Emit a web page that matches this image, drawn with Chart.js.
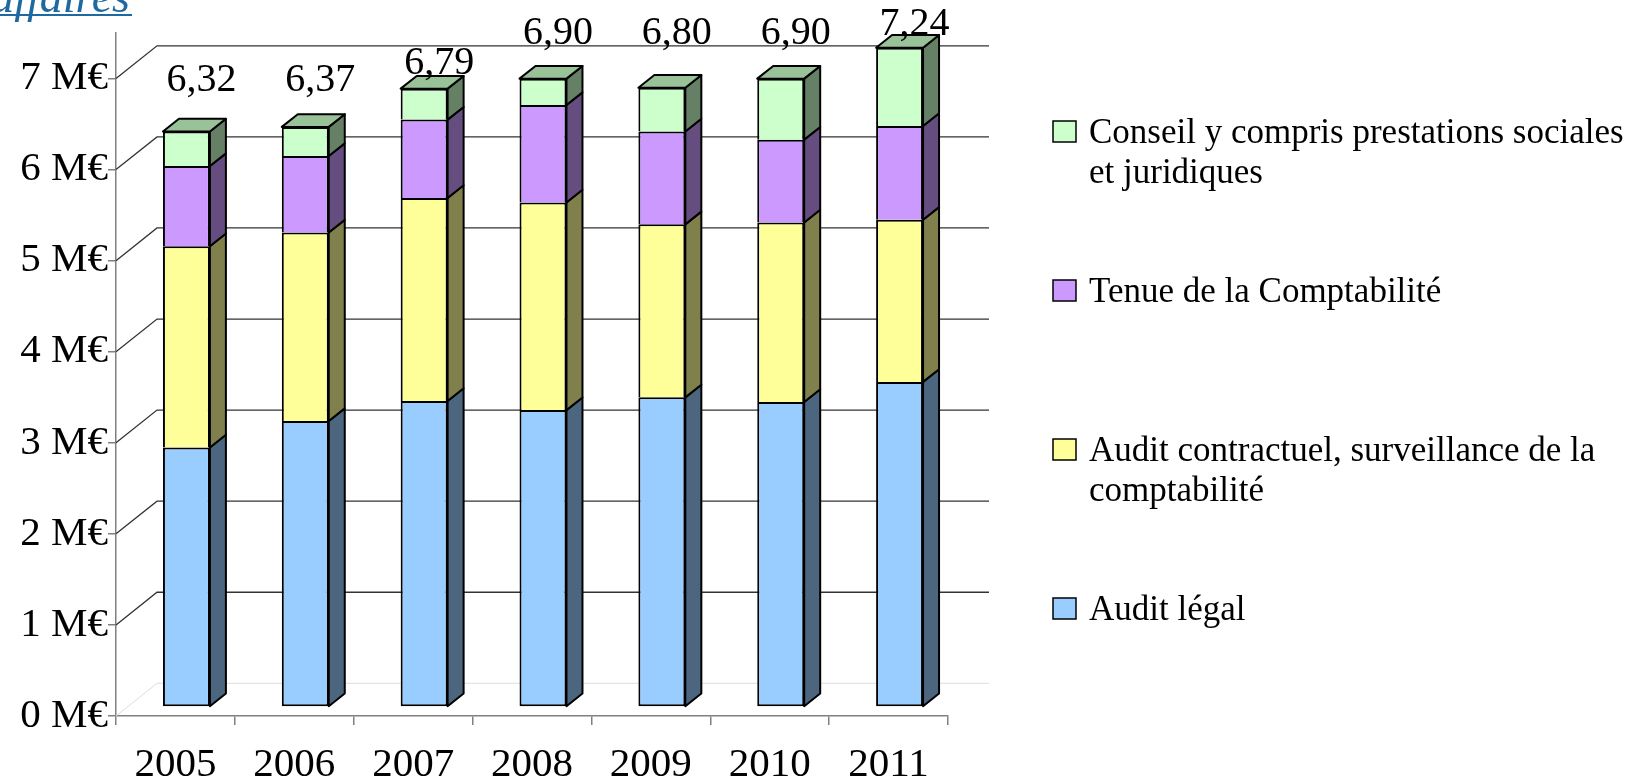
<!DOCTYPE html>
<html>
<head>
<meta charset="utf-8">
<script src="https://cdn.jsdelivr.net/npm/chart.js@4.4.1/dist/chart.umd.min.js"></script>
<style>
  html, body { margin: 0; padding: 0; background: #fff; }
  #wrap { width: 1634px; height: 780px; position: relative; }
</style>
</head>
<body>
<div id="wrap"><canvas id="caChart"></canvas></div>
<script>
var years = ["2005", "2006", "2007", "2008", "2009", "2010", "2011"];
var auditLegal = [2.85, 3.14, 3.36, 3.26, 3.40, 3.35, 3.57];
var auditContractuel = [2.21, 2.07, 2.23, 2.28, 1.90, 1.97, 1.78];
var tenueCompta = [0.88, 0.84, 0.86, 1.07, 1.02, 0.91, 1.03];
var conseil = [0.38, 0.32, 0.34, 0.29, 0.48, 0.67, 0.86];
var yTicks = [0, 1, 2, 3, 4, 5, 6, 7];
// hauteur (en M€) des totaux affichés au-dessus des barres
var labelAt = [6.86, 6.86, 7.05, 7.38, 7.38, 7.38, 7.48];

var FONT = "'Liberation Serif', 'Times New Roman', serif";
// effet 3D : profondeur du fond, plan avant des barres, épaisseur des barres
var WALL_DX = 41, WALL_DY = 32.7;
var BAR_DX = 11, BAR_DY = 9;
var SIDE_DX = 16, SIDE_DY = 12.7;

var series = [
  { label: "Audit légal", data: auditLegal, front: "#99ccff", side: "#4d6680", top: "#7aa3cc" },
  { label: "Audit contractuel, surveillance de la comptabilité", data: auditContractuel, front: "#ffff99", side: "#80804d", top: "#cccc7a" },
  { label: "Tenue de la Comptabilité", data: tenueCompta, front: "#cc99ff", side: "#664d80", top: "#a37acc" },
  { label: "Conseil y compris prestations sociales et juridiques", data: conseil, front: "#ccffcc", side: "#668066", top: "#99c299" }
];

var threeD = {
  id: "threeD",
  beforeDatasetsDraw: function (chart) {
    var ctx = chart.ctx, ys = chart.scales.y, area = chart.chartArea;
    ctx.save();
    yTicks.forEach(function (v) {
      var yf = ys.getPixelForValue(v);
      ctx.strokeStyle = v === 0 ? "#dddddd" : "#333333";
      ctx.lineWidth = v === 0 ? 1 : 1.3;
      ctx.beginPath();
      ctx.moveTo(area.left, yf);
      ctx.lineTo(area.left + WALL_DX, yf - WALL_DY);
      ctx.lineTo(area.right + WALL_DX, yf - WALL_DY);
      ctx.stroke();
    });
    ctx.restore();
    ctx.save();
    ctx.translate(BAR_DX, -BAR_DY);
  },
  afterDatasetsDraw: function (chart) {
    var ctx = chart.ctx;
    var last = chart.data.datasets.length - 1;
    ctx.lineWidth = 2;
    ctx.lineJoin = "round";
    ctx.strokeStyle = "#000";
    chart.data.datasets.forEach(function (ds, di) {
      chart.getDatasetMeta(di).data.forEach(function (el) {
        var xl = el.x - el.width / 2, xr = el.x + el.width / 2;
        ctx.fillStyle = series[di].side;
        ctx.beginPath();
        ctx.moveTo(xr, el.y);
        ctx.lineTo(xr + SIDE_DX, el.y - SIDE_DY);
        ctx.lineTo(xr + SIDE_DX, el.base - SIDE_DY);
        ctx.lineTo(xr, el.base);
        ctx.closePath();
        ctx.fill();
        ctx.stroke();
        if (di === last) {
          ctx.fillStyle = series[di].top;
          ctx.beginPath();
          ctx.moveTo(xl, el.y);
          ctx.lineTo(xl + SIDE_DX, el.y - SIDE_DY);
          ctx.lineTo(xr + SIDE_DX, el.y - SIDE_DY);
          ctx.lineTo(xr, el.y);
          ctx.closePath();
          ctx.fill();
          ctx.stroke();
        }
      });
    });
    ctx.restore();

    // totaux
    var ys = chart.scales.y;
    ctx.save();
    ctx.font = "40px " + FONT;
    ctx.fillStyle = "#000";
    ctx.textAlign = "center";
    ctx.textBaseline = "alphabetic";
    chart.getDatasetMeta(last).data.forEach(function (el, i) {
      var total = 0;
      series.forEach(function (s) { total += s.data[i]; });
      ctx.fillText(total.toFixed(2).replace(".", ","), el.x + BAR_DX + 15, ys.getPixelForValue(labelAt[i]));
    });
    ctx.restore();
  },
  afterDraw: function (chart) {
    var ctx = chart.ctx;
    ctx.save();
    // titre coupé en haut à gauche
    ctx.font = "italic 46px " + FONT;
    ctx.fillStyle = "#1e6aa0";
    ctx.textAlign = "right";
    ctx.fillText("Chiffre d'affaires", 130, 12);
    ctx.fillRect(0, 14, 132, 2);

    // légende
    ctx.font = "35px " + FONT;
    ctx.textAlign = "left";
    ctx.textBaseline = "alphabetic";
    var boxX = 1053, textX = 1089, top0 = 121, step = 159, maxW = 545;
    for (var k = 0; k < series.length; k++) {
      var s = series[series.length - 1 - k];
      var top = top0 + k * step;
      ctx.fillStyle = s.front;
      ctx.fillRect(boxX, top, 23, 21);
      ctx.strokeStyle = "#000";
      ctx.lineWidth = 1.5;
      ctx.strokeRect(boxX, top, 23, 21);
      var words = s.label.split(" "), line = "", lines = [];
      words.forEach(function (w) {
        var test = line ? line + " " + w : w;
        if (ctx.measureText(test).width > maxW && line) { lines.push(line); line = w; }
        else line = test;
      });
      lines.push(line);
      ctx.fillStyle = "#000";
      lines.forEach(function (l, j) { ctx.fillText(l, textX, top + 22 + j * 40); });
    }
    ctx.restore();
  }
};

var ctx = document.getElementById("caChart").getContext("2d");
var chart = new Chart(ctx, {
  type: "bar",
  data: {
    labels: years,
    datasets: series.map(function (s, i) {
      return {
        label: s.label,
        data: s.data,
        backgroundColor: s.front,
        borderColor: "#000",
        borderWidth: 2,
        borderSkipped: i === 0 ? false : "start",
        categoryPercentage: 1,
        barPercentage: 0.395,
        clip: false
      };
    })
  },
  options: {
    responsive: true,
    maintainAspectRatio: false,
    animation: false,
    layout: { padding: { left: 0, right: 686, top: 33, bottom: 0 } },
    plugins: { legend: { display: false }, tooltip: { enabled: false } },
    scales: {
      x: {
        stacked: true,
        afterFit: function (s) { s.height = 64; },
        grid: { drawOnChartArea: false, drawTicks: true, tickLength: 9, color: "#808080", lineWidth: 1.5, offset: true },
        border: { display: true, color: "#808080", width: 1.5 },
        ticks: { color: "#000", padding: 16, font: { family: FONT, size: 41 } }
      },
      y: {
        stacked: true,
        min: 0,
        max: 7.5,
        afterFit: function (s) { s.width = 116; },
        afterBuildTicks: function (s) { s.ticks = yTicks.map(function (v) { return { value: v }; }); },
        grid: { drawOnChartArea: false, drawTicks: true, tickLength: 8, color: "#808080", lineWidth: 1.5 },
        border: { display: true, color: "#808080", width: 1.5 },
        ticks: {
          color: "#000",
          padding: 0,
          font: { family: FONT, size: 41 },
          callback: function (v) { return v + " M€"; }
        }
      }
    }
  },
  plugins: [threeD]
});
</script>
</body>
</html>
